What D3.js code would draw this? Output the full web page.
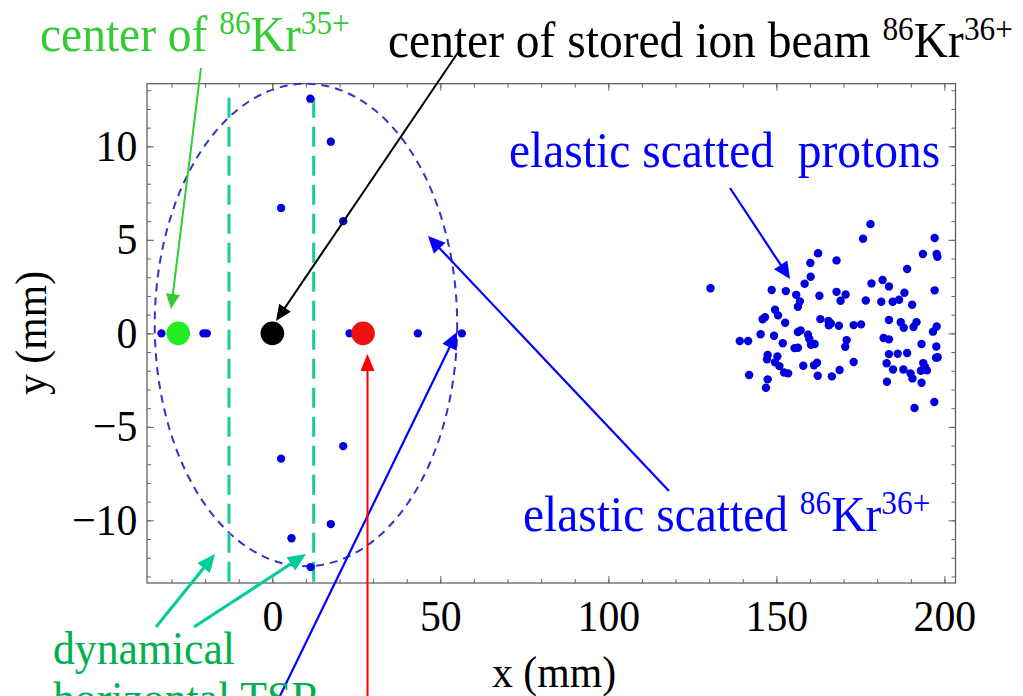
<!DOCTYPE html>
<html>
<head>
<meta charset="utf-8">
<script src="https://cdn.jsdelivr.net/npm/d3@7"></script>
<style>
body { margin: 0; background: #fff; }
svg { display: block; font-family: "Liberation Serif", "Times New Roman", serif; }
text { white-space: pre; }
</style>
</head>
<body>
<script>
// axis ticks
var xMajor = [0, 50, 100, 150, 200];
var yMajor = [-10, -5, 0, 5, 10];

// beam centers: Kr35+, stored Kr36+, recoil spot
var beamX = [-28, 0, 27];
var beamY = [0, 0, 0];

// elastic scattered Kr36+ hits
var krX = [-33, -20.5, -19.5, 23, 43.3, 56.4, 11.3, 17.4, 2.6, 21.1, 21.1, 2.6, 17.4, 5.7, 11.4];
var krY = [0, 0, 0, 0, 0, 0, 12.55, 10.25, 6.7, 6.0, -6.03, -6.7, -10.2, -10.96, -12.5];

// elastic scattered protons
var protonX = [130.4, 178.0, 175.8, 197.1, 162.4, 193.6, 197.7, 197.9, 160.1, 167.9,
  188.9, 160.2, 158.4, 178.3, 181.6, 183.5, 148.6, 152.8, 155.9, 167.9,
  170.6, 162.8, 188.1, 197.1, 157.0, 156.4, 169.1, 176.6, 181.2, 184.6,
  186.5, 190.4, 149.6, 150.5, 146.6, 145.9, 152.6, 163.1, 165.5, 166.2,
  165.6, 168.6, 173.0, 175.2, 183.5, 187.0, 187.9, 191.7, 190.8, 197.7,
  196.6, 139.1, 141.6, 145.3, 149.3, 151.9, 156.4, 157.2, 159.4, 159.8,
  160.3, 161.4, 155.4, 156.4, 170.9, 170.5, 181.9, 183.5, 193.2, 197.6,
  183.5, 186.1, 188.9, 197.5, 198.0, 147.4, 150.3, 147.2, 149.6, 150.9,
  152.3, 153.5, 158.0, 161.2, 162.1, 173.0, 182.8, 184.7, 187.8, 193.7,
  194.2, 193.0, 194.8, 168.8, 166.5, 162.3, 141.9, 147.4, 146.9, 189.9,
  190.5, 193.2, 182.9, 191.1, 197.0];
var protonY = [2.41, 5.84, 5.06, 5.10, 4.28, 4.24, 4.24, 4.10, 3.76, 3.90,
  3.44, 3.03, 2.65, 2.67, 2.85, 2.51, 2.32, 2.26, 2.06, 2.22,
  2.08, 2.01, 2.17, 2.30, 1.71, 1.42, 1.74, 1.76, 1.69, 1.69,
  1.80, 1.53, 1.26, 0.96, 0.86, 0.75, 0.57, 0.76, 0.66, 0.53,
  0.43, 0.41, 0.44, 0.48, 0.71, 0.59, 0.30, 0.60, 0.34, 0.37,
  0.09, -0.41, -0.41, -0.05, -0.13, -0.53, 0.07, 0.16, -0.07, -0.30,
  -0.61, -0.57, -0.79, -0.77, -0.36, -0.72, -0.25, -0.32, -0.57, -0.70,
  -1.11, -1.09, -1.05, -1.30, -1.28, -1.16, -1.23, -1.39, -1.55, -1.75,
  -2.09, -2.14, -1.73, -1.71, -1.57, -1.53, -1.60, -1.93, -1.93, -1.59,
  -1.79, -2.00, -1.98, -1.96, -2.30, -2.27, -2.23, -2.46, -2.91, -2.14,
  -2.41, -2.64, -2.59, -3.99, -3.67];

// dynamical horizontal TSR acceptance edges
var tsrX = [-12.9, 12.3];
var tsrY = [12.6, -13.6];

// elastic Kr36+ ellipse: center and half axes
var ellipseCenter = [10, 0.45];
var ellipseRadii = [45, 12.9];

var W = 1023, H = 696;
var svg = d3.select("body").append("svg")
    .attr("width", W)
    .attr("height", H);

svg.append("rect").attr("width", W).attr("height", H).attr("fill", "#fff");

var x = d3.scaleLinear().domain([-37.3, 203.3]).range([147, 955.5]);
var y = d3.scaleLinear().domain([-13.35, 13.35]).range([583, 83.7]);

var x0 = x.range()[0], x1 = x.range()[1], y0 = y.range()[0], y1 = y.range()[1];

// axes with inward ticks
function styleAxis(g) {
    g.select(".domain").remove();
    g.selectAll(".tick line").attr("stroke", "#666");
    g.attr("font-family", null).attr("font-size", 44);
    g.selectAll("text").attr("fill", "#000").attr("transform", "scale(0.95,1)");
}
var fmt = d3.format("d");

svg.append("g").attr("transform", "translate(0," + y0 + ")")
    .call(d3.axisBottom(x).tickValues(d3.range(-30, 201, 10)).tickSize(-4).tickFormat(""))
    .call(styleAxis);
svg.append("g").attr("transform", "translate(0," + y0 + ")")
    .call(d3.axisBottom(x).tickValues(xMajor).tickSize(-7).tickPadding(17).tickFormat(fmt))
    .call(styleAxis);
svg.append("g").attr("transform", "translate(0," + y1 + ")")
    .call(d3.axisTop(x).tickValues(d3.range(-30, 201, 10)).tickSize(-4).tickFormat(""))
    .call(styleAxis);
svg.append("g").attr("transform", "translate(0," + y1 + ")")
    .call(d3.axisTop(x).tickValues(xMajor).tickSize(-7).tickFormat(""))
    .call(styleAxis);
svg.append("g").attr("transform", "translate(" + x0 + ",0)")
    .call(d3.axisLeft(y).tickValues(d3.range(-13, 14, 1)).tickSize(-4).tickFormat(""))
    .call(styleAxis);
svg.append("g").attr("transform", "translate(" + x0 + ",0)")
    .call(d3.axisLeft(y).tickValues(yMajor).tickSize(-7).tickPadding(10).tickFormat(fmt))
    .call(styleAxis);
svg.append("g").attr("transform", "translate(" + x1 + ",0)")
    .call(d3.axisRight(y).tickValues(d3.range(-13, 14, 1)).tickSize(-4).tickFormat(""))
    .call(styleAxis);
svg.append("g").attr("transform", "translate(" + x1 + ",0)")
    .call(d3.axisRight(y).tickValues(yMajor).tickSize(-7).tickFormat(""))
    .call(styleAxis);

svg.append("rect")
    .attr("x", x0).attr("y", y1)
    .attr("width", x1 - x0).attr("height", y0 - y1)
    .attr("fill", "none").attr("stroke", "#555").attr("stroke-width", 1.2);

// ellipse
svg.append("ellipse")
    .attr("cx", x(ellipseCenter[0]))
    .attr("cy", y(ellipseCenter[1]))
    .attr("rx", x(ellipseCenter[0] + ellipseRadii[0]) - x(ellipseCenter[0]))
    .attr("ry", y(ellipseCenter[1] - ellipseRadii[1]) - y(ellipseCenter[1]))
    .attr("fill", "none")
    .attr("stroke", "#3333cc")
    .attr("stroke-width", 2)
    .attr("stroke-dasharray", "8,6");

// TSR edges
svg.selectAll(".tsr").data(tsrX).enter().append("line")
    .attr("class", "tsr")
    .attr("x1", function(d) { return x(d); })
    .attr("x2", function(d) { return x(d); })
    .attr("y1", y(tsrY[0]))
    .attr("y2", y(tsrY[1]))
    .attr("stroke", "#1acc99")
    .attr("stroke-width", 3)
    .attr("stroke-dasharray", "20,9");

// scattered hits
svg.selectAll(".kr").data(krX).enter().append("circle")
    .attr("class", "kr")
    .attr("cx", function(d) { return x(d); })
    .attr("cy", function(d, i) { return y(krY[i]); })
    .attr("r", 4.2)
    .attr("fill", "#0000dd");

svg.selectAll(".proton").data(protonX).enter().append("circle")
    .attr("class", "proton")
    .attr("cx", function(d) { return x(d); })
    .attr("cy", function(d, i) { return y(protonY[i]); })
    .attr("r", 4.2)
    .attr("fill", "#0000dd");

// beam centers
var beamColors = ["#22ee22", "#000000", "#ee1111"];
svg.selectAll(".beam").data(beamX).enter().append("circle")
    .attr("class", "beam")
    .attr("cx", function(d) { return x(d); })
    .attr("cy", function(d, i) { return y(beamY[i]); })
    .attr("r", 11.8)
    .attr("fill", function(d, i) { return beamColors[i]; });

// annotation arrows
function arrow(xa, ya, xb, yb, color, width, len, half) {
    var dx = xb - xa, dy = yb - ya, l = Math.sqrt(dx * dx + dy * dy);
    var ux = dx / l, uy = dy / l;
    var bx = xb - ux * len, by = yb - uy * len;
    svg.append("line")
        .attr("x1", xa).attr("y1", ya).attr("x2", bx + ux * 2).attr("y2", by + uy * 2)
        .attr("stroke", color).attr("stroke-width", width);
    svg.append("path")
        .attr("d", "M" + xb + "," + yb +
            "L" + (bx - uy * half) + "," + (by + ux * half) +
            "L" + (bx + uy * half) + "," + (by - ux * half) + "Z")
        .attr("fill", color);
}
arrow(201, 68, 171, 309, "#33cc33", 2, 15, 7);
arrow(461, 48, 276, 321, "#000", 2, 16, 7);
arrow(730, 188, 790, 279, "#0000ff", 2.2, 17, 8);
arrow(669, 491, 428, 236, "#0000ff", 2.2, 17, 8);
arrow(278, 700, 457, 332, "#0000ff", 2.2, 17, 8);
arrow(367.5, 700, 367.5, 354, "#ff0000", 2, 17, 7);
arrow(156, 627, 215, 554, "#00cc99", 3, 18, 8);
arrow(194, 627, 306, 554, "#00cc99", 3, 18, 8);

// rich text with superscripts, slightly condensed like the original
function rich(xp, yp, parts, size, color) {
    var t = svg.append("text")
        .attr("transform", "translate(" + xp + "," + yp + ") scale(0.95,1)")
        .attr("font-size", size).attr("fill", color);
    var up = false;
    parts.forEach(function(p) {
        var s = t.append("tspan").text(p[0]);
        if (p[1] && !up) { s.attr("dy", -17).attr("font-size", 33); up = true; }
        else if (p[1]) { s.attr("font-size", 33); }
        else if (up) { s.attr("dy", 17); up = false; }
    });
    return t;
}
rich(40, 51, [["center of "], ["86", 1], ["Kr"], ["35+", 1]], 50, "#33cc33");
rich(388, 57, [["center of stored ion beam "], ["86", 1], ["Kr"], ["36+", 1]], 50, "#000");
rich(509, 167, [["elastic scatted  protons"]], 50, "#0000ff");
rich(523, 531, [["elastic scatted "], ["86", 1], ["Kr"], ["36+", 1]], 50, "#0000ff");
rich(53, 664, [["dynamical"]], 46, "#00b050");
rich(53, 714, [["horizontal TSR"]], 46, "#00b050");

svg.append("text")
    .attr("transform", "translate(492,687) scale(0.95,1)")
    .attr("font-size", 44).text("x (mm)");
svg.append("text")
    .attr("transform", "translate(46,333) rotate(-90) scale(0.95,1)")
    .attr("text-anchor", "middle")
    .attr("font-size", 44).text("y (mm)");
</script>
</body>
</html>
